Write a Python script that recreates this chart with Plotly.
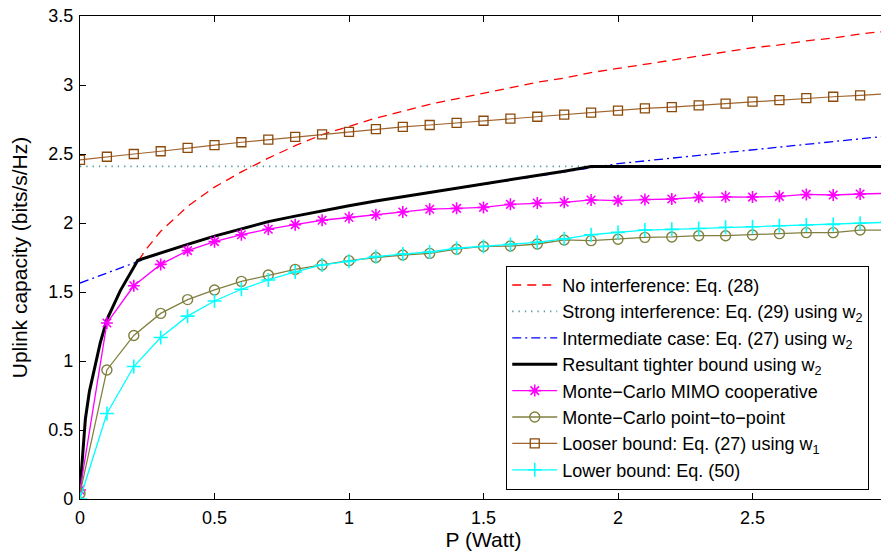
import plotly.graph_objects as go

# ---------------- data ----------------
P = [0.0, 0.1, 0.2, 0.3, 0.4, 0.5, 0.6, 0.7, 0.8, 0.9, 1.0,
     1.1, 1.2, 1.3, 1.4, 1.5, 1.6, 1.7, 1.8, 1.9, 2.0,
     2.1, 2.2, 2.3, 2.4, 2.5, 2.6, 2.7, 2.8, 2.9, 3.0]

# No interference: Eq. (28)
P_noint = [0.0, 0.01, 0.02, 0.035, 0.05, 0.075, 0.1, 0.15, 0.2, 0.25,
           0.3, 0.4, 0.5, 0.6, 0.7, 0.8, 0.9, 1.0, 1.1, 1.2, 1.3, 1.4,
           1.5, 1.6, 1.7, 1.8, 1.9, 2.0, 2.1, 2.2, 2.3, 2.4, 2.5, 2.6,
           2.7, 2.8, 2.9, 3.0]
C_noint = [0.065, 0.36, 0.58, 0.78, 0.92, 1.13, 1.30, 1.51, 1.68, 1.82,
           1.94, 2.12, 2.26, 2.37, 2.47, 2.56, 2.64, 2.70, 2.76, 2.81, 2.86, 2.90,
           2.94, 2.98, 3.02, 3.05, 3.09, 3.12, 3.15, 3.18, 3.21, 3.24, 3.27, 3.29,
           3.32, 3.34, 3.37, 3.39]

# Strong interference: Eq. (29) using w2
P_strong = [0.0, 3.0]
C_strong = [2.41, 2.41]

# Intermediate case: Eq. (27) using w2
C_inter = [1.565, 1.64, 1.71, 1.78, 1.845, 1.905, 1.96, 2.01, 2.05, 2.09, 2.125,
           2.16, 2.19, 2.22, 2.25, 2.28, 2.31, 2.34, 2.37, 2.40, 2.43,
           2.45, 2.47, 2.49, 2.51, 2.53, 2.55, 2.57, 2.59, 2.61, 2.63]

# Resultant tighter bound using w2
P_tight = [0.0, 0.01, 0.02, 0.035, 0.05, 0.075, 0.1, 0.15, 0.215, 0.3, 0.4,
           0.5, 0.6, 0.7, 0.8, 0.9, 1.0, 1.1, 1.2, 1.3, 1.4, 1.5, 1.6, 1.7,
           1.8, 1.9, 3.0]
C_tight = [0.065, 0.36, 0.58, 0.78, 0.92, 1.13, 1.30, 1.51, 1.73, 1.785, 1.845,
           1.905, 1.96, 2.01, 2.05, 2.09, 2.125, 2.16, 2.19, 2.22, 2.25, 2.28, 2.31, 2.34,
           2.375, 2.41, 2.41]

# Monte-Carlo MIMO cooperative
C_mimo = [0.065, 1.275, 1.545, 1.70, 1.80, 1.865, 1.915, 1.955, 1.988, 2.02, 2.04,
          2.06, 2.08, 2.10, 2.106, 2.113, 2.135, 2.145, 2.15, 2.167, 2.162,
          2.17, 2.174, 2.186, 2.19, 2.188, 2.193, 2.207, 2.203, 2.21, 2.215]

# Monte-Carlo point-to-point
C_p2p = [0.04, 0.935, 1.185, 1.345, 1.445, 1.515, 1.577, 1.623, 1.664, 1.696, 1.727,
         1.75, 1.768, 1.78, 1.81, 1.83, 1.833, 1.848, 1.877, 1.872, 1.882,
         1.896, 1.899, 1.908, 1.908, 1.913, 1.923, 1.93, 1.93, 1.949, 1.949]

# Looser bound: Eq. (27) using w1
C_loose = [2.457, 2.48, 2.50, 2.52, 2.545, 2.565, 2.585, 2.604, 2.624, 2.642, 2.66,
           2.68, 2.696, 2.71, 2.725, 2.741, 2.756, 2.77, 2.785, 2.80, 2.814,
           2.83, 2.84, 2.853, 2.865, 2.88, 2.89, 2.905, 2.915, 2.925, 2.937]

# Lower bound: Eq. (50)
C_lower = [0.0, 0.62, 0.96, 1.17, 1.325, 1.435, 1.52, 1.587, 1.645, 1.696, 1.722,
           1.756, 1.775, 1.79, 1.817, 1.83, 1.845, 1.86, 1.885, 1.915, 1.932,
           1.949, 1.954, 1.96, 1.969, 1.973, 1.98, 1.986, 1.99, 1.998, 2.005]

x_ticks = [0, 0.5, 1, 1.5, 2, 2.5, 3]
x_ticklabels = ["0", "0.5", "1", "1.5", "2", "2.5", "3"]
y_ticks = [0, 0.5, 1, 1.5, 2, 2.5, 3, 3.5]
y_ticklabels = ["0", "0.5", "1", "1.5", "2", "2.5", "3", "3.5"]

# ---------------- figure ----------------
FONT = "Liberation Sans, Arial, Helvetica, sans-serif"

fig = go.Figure()

fig.add_trace(go.Scatter(
    x=P_noint, y=C_noint, mode="lines",
    name="No interference: Eq. (28)",
    line=dict(color="#ff0000", width=1.3, dash="9px,6px")))

fig.add_trace(go.Scatter(
    x=P_strong, y=C_strong, mode="lines",
    name="Strong interference: Eq. (29) using w<sub>2</sub>",
    line=dict(color="#4f9999", width=1.8, dash="1.3px,5px")))

fig.add_trace(go.Scatter(
    x=P, y=C_inter, mode="lines",
    name="Intermediate case: Eq. (27) using w<sub>2</sub>",
    line=dict(color="#0000ff", width=1.3, dash="9px,4px,2px,4px")))

fig.add_trace(go.Scatter(
    x=P_tight, y=C_tight, mode="lines",
    name="Resultant tighter bound using w<sub>2</sub>",
    line=dict(color="#000000", width=3)))

fig.add_trace(go.Scatter(
    x=P, y=C_mimo, mode="lines+markers",
    name="Monte\u2212Carlo MIMO cooperative",
    line=dict(color="#ff00ff", width=1.3),
    marker=dict(symbol="asterisk-open", size=10, color="#ff00ff",
                line=dict(color="#ff00ff", width=1.6))))

fig.add_trace(go.Scatter(
    x=P, y=C_p2p, mode="lines+markers",
    name="Monte\u2212Carlo point\u2212to\u2212point",
    line=dict(color="#808040", width=1.3),
    marker=dict(symbol="circle-open", size=10, color="#808040",
                line=dict(color="#808040", width=1.4))))

fig.add_trace(go.Scatter(
    x=P, y=C_loose, mode="lines+markers",
    name="Looser bound: Eq. (27) using w<sub>1</sub>",
    line=dict(color="#a0642d", width=1.2),
    marker=dict(symbol="square-open", size=9, color="#8b4a0a",
                line=dict(color="#8b4a0a", width=1.3))))

fig.add_trace(go.Scatter(
    x=P, y=C_lower, mode="lines+markers",
    name="Lower bound: Eq. (50)",
    line=dict(color="#00ffff", width=1.3),
    marker=dict(symbol="cross-thin-open", size=10, color="#00ffff",
                line=dict(color="#00ffff", width=1.6))))

axis_common = dict(
    showline=True, linecolor="black", linewidth=1.2, mirror="ticks",
    ticks="inside", ticklen=6, tickcolor="black", tickwidth=1,
    showgrid=False, zeroline=False, automargin=False,
    ticklabeloverflow="allow",
    tickfont=dict(family=FONT, size=18, color="black"),
)

fig.update_xaxes(
    range=[0, 3], tickvals=x_ticks, ticktext=x_ticklabels,
    ticklabelstandoff=2,
    title=dict(text="P (Watt)", font=dict(family=FONT, size=21, color="black"),
               standoff=4),
    **axis_common)
fig.update_yaxes(
    range=[0, 3.5], tickvals=y_ticks, ticktext=y_ticklabels,
    ticklabelstandoff=2,
    title=dict(text="Uplink capacity (bits/s/Hz)",
               font=dict(family=FONT, size=21, color="black")),
    **axis_common)

# The page body has an 8px margin, so the figure is 8px smaller and its
# margins are shifted so the plot lands where the reference's plot is.
fig.update_layout(
    width=881, height=551,
    margin=dict(l=72, r=2, t=8, b=60),
    paper_bgcolor="white", plot_bgcolor="white",
    font=dict(family=FONT, size=18, color="black"),
    showlegend=True,
    legend=dict(
        x=0.978, y=0.019, xanchor="right", yanchor="bottom",
        bgcolor="white", bordercolor="black", borderwidth=1,
        font=dict(family=FONT, size=18, color="black"),
        itemwidth=45, tracegroupgap=0,
    ),
)

fig.write_html("out.html")
